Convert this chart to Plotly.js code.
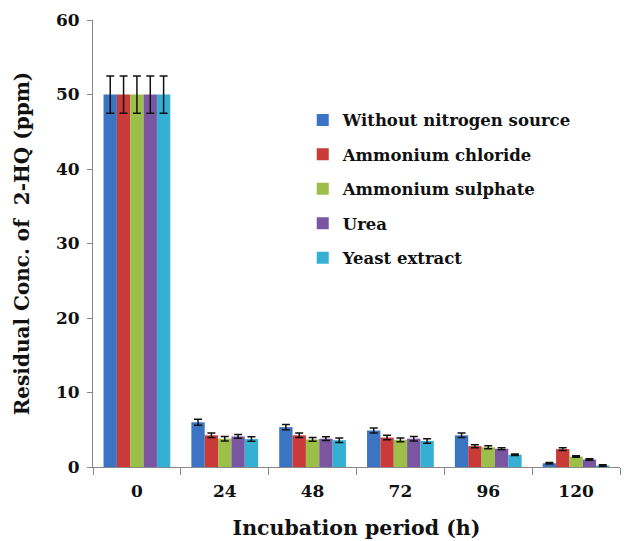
<!DOCTYPE html>
<html>
<head>
<meta charset="utf-8">
<script src="https://cdn.plot.ly/plotly-3.0.1.min.js"></script>
<style>html,body{margin:0;padding:0;background:#fff;}#chart{width:624px;height:541px;}</style>
</head>
<body>
<div id="chart"></div>
<script>
const categories = ["0", "24", "48", "72", "96", "120"];
const yTickValues = [0, 10, 20, 30, 40, 50, 60];
const seriesNames = ["Without nitrogen source", "Ammonium chloride", "Ammonium sulphate", "Urea", "Yeast extract"];
const withoutNitrogen = [50, 6.0, 5.35, 4.9, 4.25, 0.5];
const ammoniumChloride = [50, 4.25, 4.25, 3.95, 2.8, 2.4];
const ammoniumSulphate = [50, 3.8, 3.7, 3.65, 2.65, 1.4];
const urea = [50, 4.1, 3.8, 3.8, 2.45, 1.0];
const yeastExtract = [50, 3.75, 3.6, 3.5, 1.65, 0.2];
const errWithout = [2.5, 0.4, 0.35, 0.35, 0.3, 0.1];
const errChloride = [2.5, 0.3, 0.3, 0.3, 0.2, 0.2];
const errSulphate = [2.5, 0.3, 0.25, 0.25, 0.2, 0.1];
const errUrea = [2.5, 0.25, 0.25, 0.3, 0.15, 0.1];
const errYeast = [2.5, 0.3, 0.3, 0.3, 0.1, 0.1];
const colors = ["#3b74c2", "#c93a38", "#9bbf48", "#7a56a2", "#35b0d2"];

const values = [withoutNitrogen, ammoniumChloride, ammoniumSulphate, urea, yeastExtract];
const errors = [errWithout, errChloride, errSulphate, errUrea, errYeast];
const FONT = "DejaVu Serif";

const traces = seriesNames.map((name, i) => ({
  type: "bar",
  name: "<b>" + name + "</b>",
  legendgroup: "g" + i,
  x: categories,
  y: values[i],
  marker: {color: colors[i], line: {width: 0}},
  error_y: {type: "data", array: errors[i], visible: true, color: "#111", thickness: 1.5, width: 4}
}));

const layout = {
  width: 624, height: 541,
  margin: {l: 93, r: 4, t: 20, b: 74},
  paper_bgcolor: "#fff", plot_bgcolor: "#fff",
  barmode: "group", bargap: 0.24, bargroupgap: 0,
  font: {family: FONT, color: "#111"},
  showlegend: true,
  legend: {x: 0.398, y: 0.815, xanchor: "left", yanchor: "top", bgcolor: "rgba(0,0,0,0)",
    traceorder: "grouped", tracegroupgap: 10,
    font: {family: FONT, size: 16.5, color: "#111"}},
  xaxis: {
    type: "category", tickson: "boundaries", ticks: "outside", ticklen: 7, tickcolor: "#888",
    tickmode: "array", tickvals: categories, ticktext: categories.map(c => "<b>" + c + "</b>"),
    ticklabelstandoff: 9,
    showline: true, linecolor: "#888", linewidth: 1, showgrid: false, zeroline: false,
    tickfont: {family: FONT, size: 17, color: "#111"},
    title: {text: "<b>Incubation period (h)</b>", font: {family: FONT, size: 20.5, color: "#111"}, standoff: 20}
  },
  yaxis: {
    range: [0, 60], ticks: "outside", ticklen: 5, tickcolor: "#888",
    tickmode: "array", tickvals: yTickValues, ticktext: yTickValues.map(v => "<b>" + v + "</b>"),
    ticklabelstandoff: 4,
    showline: true, linecolor: "#888", linewidth: 1, showgrid: false, zeroline: false,
    tickfont: {family: FONT, size: 17, color: "#111"},
    title: {text: "<b>Residual Conc. of  2-HQ (ppm)</b>", font: {family: FONT, size: 20, color: "#111"}, standoff: 20}
  }
};

Plotly.newPlot("chart", traces, layout, {displayModeBar: false, staticPlot: true});
</script>
</body>
</html>
